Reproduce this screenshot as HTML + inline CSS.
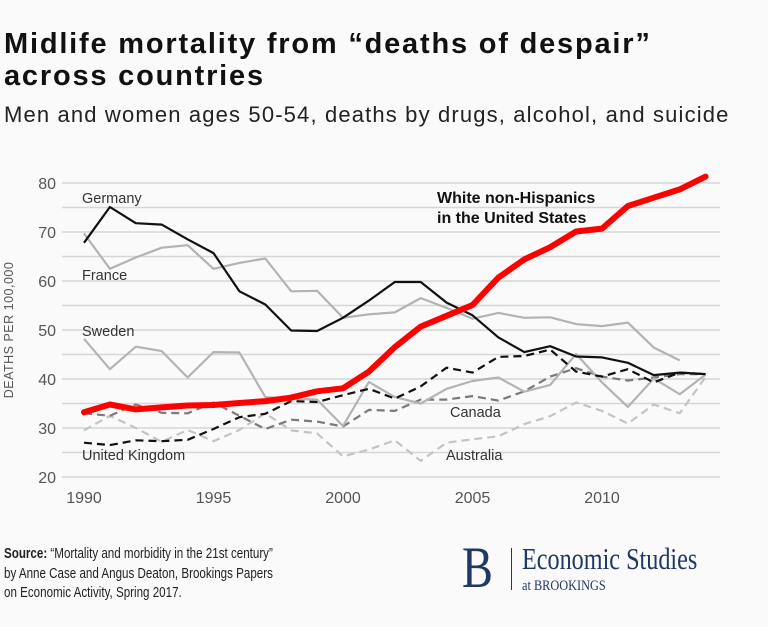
<!DOCTYPE html>
<html><head><meta charset="utf-8"><style>
body{margin:0;background:#fafafa;font-family:"Liberation Sans",sans-serif;}
#wrap{position:relative;width:768px;height:627px;overflow:hidden;background:#fafafa;}
.t{position:absolute;}
</style></head><body>
<div id="wrap">
<div class="t" style="left:4px;top:28px;font-size:29px;font-weight:bold;line-height:32px;color:#111;letter-spacing:1.8px;">Midlife mortality from “deaths of despair”<br>across countries</div>
<div class="t" style="left:4px;top:102px;font-size:22px;color:#222;letter-spacing:1.15px;">Men and women ages 50-54, deaths by drugs, alcohol, and suicide</div>
<svg id="ch" width="768" height="520" style="position:absolute;left:0;top:0"></svg>
<div class="t" style="left:4px;top:545px;font-size:14.5px;line-height:19.5px;color:#222;transform:scaleX(0.8);transform-origin:0 0;white-space:nowrap;"><b>Source:</b> “Mortality and morbidity in the 21st century”<br>by Anne Case and Angus Deaton, Brookings Papers<br>on Economic Activity, Spring 2017.</div>
<div class="t" style="left:460px;top:542px;width:300px;height:56px;color:#1f3864;font-family:'Liberation Serif',serif;">
<div style="position:absolute;left:2px;top:-4px;font-size:58px;line-height:60px;transform:scaleX(0.8);transform-origin:0 0;">B</div>
<div style="position:absolute;left:51px;top:6px;width:1px;height:42px;background:#1f3864;"></div>
<div style="position:absolute;left:62px;top:0px;font-size:31px;line-height:34px;transform:scaleX(0.78);transform-origin:0 0;white-space:nowrap;">Economic Studies</div>
<div style="position:absolute;left:62px;top:36px;font-size:15px;transform:scaleX(0.82);transform-origin:0 0;white-space:nowrap;">at BROOKINGS</div>
</div>
</div>
<script>
const years=[1990,1991,1992,1993,1994,1995,1996,1997,1998,1999,2000,2001,2002,2003,2004,2005,2006,2007,2008,2009,2010,2011,2012,2013,2014];
const usWhite=[33.2,34.8,33.8,34.2,34.6,34.7,35.1,35.5,36.2,37.5,38.1,41.5,46.5,50.7,52.9,55.1,60.7,64.4,66.9,70.1,70.7,75.3,77,78.7,81.3];
const germany=[67.8,75.1,71.8,71.5,68.5,65.7,57.9,55.2,49.9,49.8,52.5,56,59.8,59.8,55.6,53,48.5,45.5,46.7,44.6,44.4,43.3,40.8,41.3,41];
const france=[69.7,62.5,64.8,66.8,67.3,62.5,63.7,64.6,57.9,58,52.5,53.2,53.6,56.5,54.5,52.3,53.5,52.5,52.6,51.2,50.8,51.5,46.4,43.8];
const sweden=[48.2,42,46.6,45.7,40.3,45.5,45.4,36.3,36,35.8,30.4,39.4,36.3,35,38,39.6,40.3,37.4,38.8,45.1,39.3,34.3,40.1,36.9,40.9];
const uk=[27,26.5,27.5,27.3,27.6,29.8,32.2,32.9,35.5,35.3,36.7,38,36,38.5,42.3,41.3,44.5,44.7,46,41.5,40.5,42,39.3,41.3,41];
const canada=[33,32.5,34.8,33.1,33,35.2,32.5,29.8,31.7,31.3,30.3,33.7,33.5,35.8,35.8,36.5,35.6,37.5,40.5,42.2,40.5,39.7,40.3,41,41];
const australia=[29.5,32.5,30,27.2,29.6,27.3,29.6,33,29.5,28.9,24.2,25.6,27.5,23.3,27,27.7,28.3,30.8,32.4,35.2,33.5,30.9,34.8,33,40.4];
const yTicks=[20,30,40,50,60,70,80];
const xTicks=[1990,1995,2000,2005,2010];
const NS='http://www.w3.org/2000/svg';
const svg=document.getElementById('ch');
const X=y=>84+(y-1990)*25.9;
const Y=v=>477-(v-20)*4.9;
function mk(tag,at){const e=document.createElementNS(NS,tag);for(const k in at)e.setAttribute(k,at[k]);svg.appendChild(e);return e;}
for(let v=20;v<=80;v+=5){
 const g=mk('line',{x1:62,x2:720,y1:Y(v),y2:Y(v),stroke:'#d6d6d6','stroke-width':1.5});
 
 
}
yTicks.forEach(v=>{const t=mk('text',{x:56,y:Y(v)+6,'text-anchor':'end','font-size':16,fill:'#555','font-family':'Liberation Sans, sans-serif'});t.textContent=v;
 
 });
xTicks.forEach(v=>{const t=mk('text',{x:X(v),y:503,'text-anchor':'middle','font-size':16,fill:'#555','font-family':'Liberation Sans, sans-serif'});t.textContent=v;
 
 });
const yt=mk('text',{x:0,y:0,transform:'translate(13,330) rotate(-90)','text-anchor':'middle','font-size':12.5,fill:'#555','letter-spacing':'0.5','font-family':'Liberation Sans, sans-serif'});yt.textContent='DEATHS PER 100,000';


function series(arr,name,st){
 const d=arr.map((v,i)=>(i?'L':'M')+X(years[i]).toFixed(1)+','+Y(v).toFixed(1)).join('');
 const p=mk('path',Object.assign({d:d,fill:'none','stroke-linejoin':'round'},st));
 
 
}
series(australia,'australia-line',{stroke:'#c4c4c4','stroke-width':2.2,'stroke-dasharray':'8,5'});
series(canada,'canada-line',{stroke:'#7a7a7a','stroke-width':2.2,'stroke-dasharray':'8,5'});
series(sweden,'sweden-line',{stroke:'#b3b3b3','stroke-width':2.2});
series(france,'france-line',{stroke:'#b3b3b3','stroke-width':2.2});
series(uk,'uk-line',{stroke:'#111','stroke-width':2.2,'stroke-dasharray':'8,5'});
series(germany,'germany-line',{stroke:'#111','stroke-width':2.2});
series(usWhite,'us-white-line',{stroke:'#f00','stroke-width':6,'stroke-linecap':'round'});
function lab(txt,x,y,name,bold){const t=mk('text',{x:x,y:y,'font-size':bold?16:14.5,fill:bold?'#111':'#333','font-weight':bold?'bold':'normal','font-family':'Liberation Sans, sans-serif'});t.textContent=txt;
 
 return t;}
lab('Germany',82,203,'germany-label');
lab('France',82,280,'france-label');
lab('Sweden',82,336,'sweden-label');
lab('United Kingdom',82,460,'uk-label');
lab('Canada',450,417,'canada-label');
lab('Australia',446,460,'australia-label');
lab('White non-Hispanics',437,203,'us-label-line1',true);
lab('in the United States',437,223,'us-label-line2',true);
</script>
</body></html>
